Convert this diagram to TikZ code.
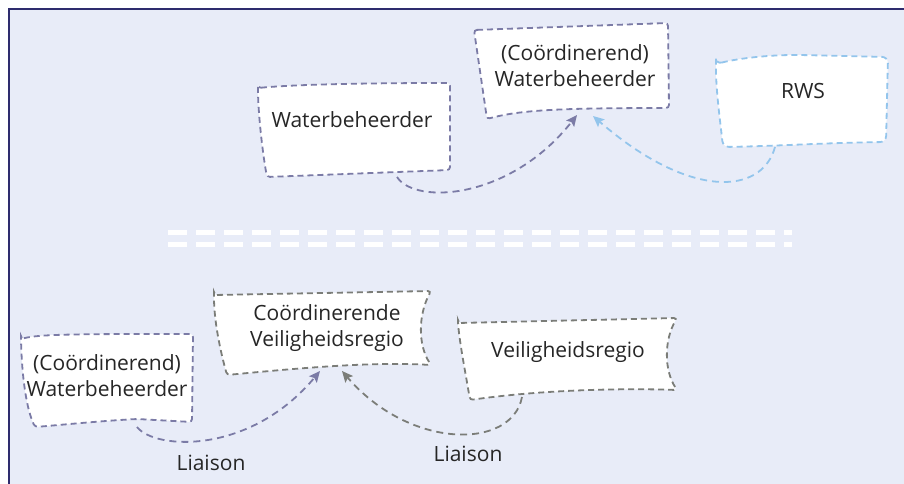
\documentclass[tikz,border=0pt]{standalone}
\usepackage{fontspec}
\setmainfont{Open Sans}
\usetikzlibrary{arrows.meta}
\definecolor{bgfill}{HTML}{E8ECF8}
\definecolor{framec}{HTML}{2E2C6E}
\definecolor{purp}{HTML}{7B7BA6}
\definecolor{skyb}{HTML}{93C5EC}
\definecolor{grayc}{HTML}{7B7D78}
\definecolor{txt}{HTML}{262626}
\tikzset{
  boxshape/.style={fill=white, line width=1.8pt, dash pattern=on 6pt off 4pt, rounded corners=3pt},
  label/.style={text=txt, align=center, font=\fontsize{21}{26}\selectfont, inner sep=0pt},
  link/.style={line width=1.8pt, dash pattern=on 7pt off 5pt,
    -{Stealth[length=11pt,width=10pt,inset=2pt]}},
  sep/.style={white, line width=5pt, dash pattern=on 19pt off 9pt}
}
\begin{document}
\begin{tikzpicture}[x=1pt,y=-1pt]
\useasboundingbox (0,0) rectangle (904,484);
% page and framed panel
\fill[white] (0,0) rectangle (904,484);
\fill[bgfill] (9,9) rectangle (904,484);
\draw[framec, line width=2pt] (9,484) -- (9,9) -- (904,9);

% upper group: boxes
\draw[boxshape, draw=purp] (258,88) .. controls (300,84) and (380,83) .. (450,83)
  -- (450,170) -- (267,177) .. controls (262,150) and (258,110) .. cycle;
\draw[boxshape, draw=purp] (474,30) -- (668,23) -- (669,108)
  .. controls (560,108) and (520,110) .. (487,119) -- cycle;
\draw[boxshape, draw=skyb, rounded corners=6pt] (716,64) .. controls (740,58) and (770,55) .. (800,55)
  -- (888,57) -- (886,142) .. controls (820,143) and (780,146) .. (723,147)
  .. controls (720,120) and (716,90) .. cycle;

\node[label] (wb)  at (352,120) {Waterbeheerder};
\node[label] (cw1) at (575,65.5) {(Coördinerend)\\Waterbeheerder};
\node[label] (rws) at (803,91) {RWS};

\coordinate (wb-s)  at (397,177);
\coordinate (cw1-a) at (577,115);
\coordinate (cw1-b) at (593,116);
\coordinate (rws-s) at (775,147);

\draw[link, purp] (wb-s) .. controls (415,205) and (510,200) .. (cw1-a);
\draw[link, skyb] (rws-s) .. controls (762,195) and (690,200) .. (cw1-b);

% separator
\draw[sep] (168,232) -- (792,232);
\draw[sep] (168,244) -- (792,244);

% lower group: boxes
\draw[boxshape, draw=purp] (21,339) .. controls (40,334) and (80,334) .. (193,334)
  -- (192,422) -- (137,419) .. controls (100,421) and (60,425) .. (35,427)
  .. controls (27,410) and (22,380) .. cycle;
\draw[boxshape, draw=grayc] (214,295) -- (431,291) .. controls (418,315) and (418,345) .. (431,365)
  .. controls (380,362) and (320,366) .. (227,375) .. controls (220,350) and (214,320) .. cycle;
\draw[boxshape, draw=grayc] (458,323) -- (677,318) .. controls (664,340) and (664,370) .. (677,390)
  .. controls (620,388) and (540,390) .. (470,400) .. controls (465,370) and (460,345) .. cycle;

\node[label] (cw2) at (107,375.5) {(Coördinerend)\\Waterbeheerder};
\node[label] (cvr) at (327,328.5) {Coördinerende\\Veiligheidsregio};
\node[label] (vr)  at (568,352) {Veiligheidsregio};

\coordinate (cw2-s) at (137,427);
\coordinate (cvr-a) at (320,371);
\coordinate (cvr-b) at (342,371);
\coordinate (vr-s)  at (522,397);

\draw[link, purp] (cw2-s) .. controls (155,450) and (250,455) .. (cvr-a);
\draw[link, grayc] (vr-s) .. controls (512,450) and (410,450) .. (cvr-b);
\node[label] (l1) at (211,463) {Liaison};
\node[label] (l2) at (468,454) {Liaison};
\end{tikzpicture}
\end{document}
